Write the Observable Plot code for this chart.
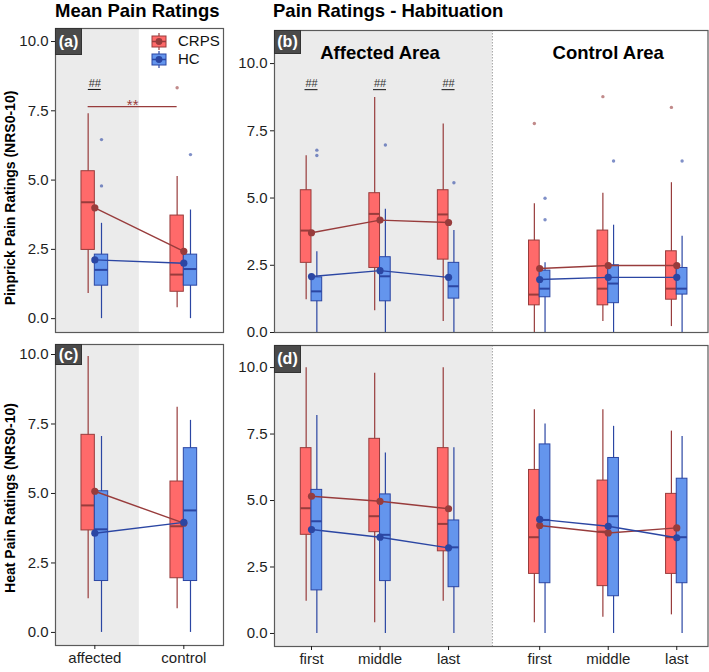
<!DOCTYPE html>
<html><head><meta charset="utf-8">
<script src="https://cdn.jsdelivr.net/npm/d3@7"></script>
<script src="https://cdn.jsdelivr.net/npm/@observablehq/plot@0.6"></script>
<style>
body{margin:0;background:#fff;}
#root{position:relative;width:709px;height:672px;font-family:"Liberation Sans",Arial,sans-serif;overflow:hidden;background:#fff;}
.abs{position:absolute;}
.title{font-weight:bold;font-size:18.5px;line-height:18.5px;color:#000;white-space:nowrap;}
.tag{background:#4a4a4a;color:#fff;font-weight:bold;font-size:16px;display:flex;align-items:center;justify-content:center;box-sizing:border-box;border:1px solid #333;}
.ytitle{font-weight:bold;font-size:14px;line-height:15px;white-space:nowrap;transform:translate(-50%,-50%) rotate(-90deg);color:#000;}
.legtext{font-size:15px;line-height:15px;color:#111;white-space:nowrap;}
</style></head>
<body><div id="root"></div>
<script>
// ---------------- data ----------------
const groups = ["CRPS", "HC"];
const sites = ["affected", "control"];
const phases = ["first", "middle", "last"];
const areas = ["Affected Area", "Control Area"];
const yTicks = [0, 2.5, 5, 7.5, 10];

// box stats per category: [lower whisker, Q1, median, Q3, upper whisker]
// (a) Pinprick, mean ratings (affected, control)
const pinMeanCRPS = [[0.91, 2.48, 4.20, 5.32, 7.39], [0.39, 0.97, 1.59, 3.72, 5.13]];
const pinMeanHC   = [[0, 1.19, 1.76, 2.31, 3.44], [0, 1.19, 1.79, 2.31, 3.92]];
const pinMeanCRPSmean = [4.00, 2.43];
const pinMeanHCmean   = [2.12, 2.00];
const pinMeanCRPSout  = [[], [8.33]];
const pinMeanHCout    = [[6.46, 4.79], [5.92]];

// (b) Pinprick, habituation (affected: first, middle, last; control: first, middle, last)
const pinHabCRPS = [
  [1.22, 2.59, 3.79, 5.29, 6.57], [0.81, 2.40, 4.41, 5.18, 8.74], [0.41, 2.71, 4.39, 5.29, 7.75],
  [0, 1.01, 1.41, 3.42, 4.79], [0.41, 1.01, 1.63, 3.79, 5.18], [0.22, 1.22, 1.63, 3.02, 5.57]];
const pinHabHC = [
  [0, 1.16, 1.53, 2.05, 3.00], [0, 1.16, 2.09, 2.80, 4.58], [0, 1.26, 1.72, 2.59, 3.79],
  [0, 1.31, 1.63, 2.30, 2.59], [0, 1.09, 1.82, 2.50, 3.99], [0, 1.41, 1.63, 2.40, 3.58]];
const pinHabCRPSmean = [3.71, 4.18, 4.09, 2.38, 2.49, 2.49];
const pinHabHCmean   = [2.08, 2.30, 2.05, 1.97, 2.05, 2.05];
const pinHabCRPSout  = [[], [], [], [7.77], [8.77], [8.37]];
const pinHabHCout    = [[6.78, 6.58], [6.97], [5.57], [4.99, 4.19], [6.38], [6.38]];

// (c) Heat, mean ratings
const heatMeanCRPS = [[1.21, 3.67, 4.57, 7.11, 9.93], [0.85, 1.95, 3.82, 5.43, 8.10]];
const heatMeanHC   = [[0, 1.85, 3.71, 5.08, 7.05], [0, 1.85, 4.39, 6.63, 7.63]];
const heatMeanCRPSmean = [5.08, 3.93];
const heatMeanHCmean   = [3.57, 3.96];

// (d) Heat, habituation
const heatHabCRPS = [
  [1.21, 3.71, 4.71, 6.97, 9.99], [0.40, 3.81, 4.41, 7.32, 9.79], [1.21, 3.09, 4.12, 6.97, 9.99],
  [0.40, 2.24, 3.62, 6.15, 8.41], [0.61, 1.78, 3.83, 5.75, 8.41], [0.70, 2.24, 3.62, 5.25, 7.61]];
const heatHabHC = [
  [0, 1.62, 4.22, 5.40, 8.20], [0, 1.97, 3.71, 5.23, 6.79], [0, 1.74, 3.24, 4.25, 6.98],
  [0, 1.89, 4.27, 7.11, 7.88], [0, 1.40, 4.41, 6.60, 7.79], [0, 1.89, 3.62, 5.82, 7.41]];
const heatHabCRPSmean = [5.16, 4.97, 4.69, 4.06, 3.78, 3.97];
const heatHabHCmean   = [3.91, 3.62, 3.22, 4.29, 4.03, 3.60];

// significance annotations
const pinMeanHashSites = ["affected"];   // "##" CRPS vs HC
const pinMeanHashY = 8.27;
const pinMeanStarSites = ["affected", "control"]; // "**" within CRPS
const pinMeanStarY = 7.65;
const pinHabHashPhases = ["first", "middle", "last"]; // in affected area
const pinHabHashY = 9.03;

// ---------------- styling ----------------
const light = {CRPS: "#FF6A6A", HC: "#6495ED"};
const dark  = {CRPS: "#983C3C", HC: "#2B46A3"};
const FONT = '"Liberation Sans", Arial, sans-serif';

const root = document.getElementById("root");
function place(el, left, top) { el.style.position = "absolute"; el.style.left = left + "px"; el.style.top = top + "px"; root.appendChild(el); }

function buildPanel(cfg) {
  const {pos, labels, areaOf, xDomain, yDomain, shadeTo, sep, crps, hc, crpsMean, hcMean,
         crpsOut, hcOut, boxW, showX, width, height, margin, extra} = cfg;
  const stats = {CRPS: crps, HC: hc}, mns = {CRPS: crpsMean, HC: hcMean}, outl = {CRPS: crpsOut, HC: hcOut};
  const boxes = [], means = [], outs = [];
  pos.forEach((p, i) => {
    for (const g of groups) {
      const s = stats[g][i];
      const x1 = g === "CRPS" ? p - boxW : p, x2 = g === "CRPS" ? p : p + boxW;
      const xc = (x1 + x2) / 2;
      boxes.push({g, x1, x2, xc, lo: s[0], q1: s[1], med: s[2], q3: s[3], hi: s[4]});
      for (const o of (outl[g] ? outl[g][i] : [])) outs.push({g, x: xc, y: o});
      means.push({g, x: p, y: mns[g][i], area: areaOf[i]});
    }
  });
  const marks = [];
  marks.push(Plot.rect([{x1: xDomain[0], x2: shadeTo, y1: yDomain[0], y2: yDomain[1]}],
    {x1: "x1", x2: "x2", y1: "y1", y2: "y2", fill: "#EBEBEB"}));
  if (sep != null) marks.push(Plot.ruleX([sep], {stroke: "#8a8a8a", strokeWidth: 0.8, strokeDasharray: "1.5,1.5"}));
  for (const g of groups) {
    const b = boxes.filter(d => d.g === g);
    marks.push(Plot.ruleX(b, {x: "xc", y1: "lo", y2: "hi", stroke: dark[g], strokeWidth: 1.2}));
    marks.push(Plot.rect(b, {x1: "x1", x2: "x2", y1: "q1", y2: "q3", fill: light[g], stroke: dark[g], strokeWidth: 1}));
    marks.push(Plot.ruleY(b, {x1: "x1", x2: "x2", y: "med", stroke: dark[g], strokeWidth: 2}));
    marks.push(Plot.dot(outs.filter(d => d.g === g), {x: "x", y: "y", r: 1.7, fill: dark[g], fillOpacity: 0.6, stroke: null}));
  }
  for (const g of groups) marks.push(Plot.line(means.filter(d => d.g === g), {x: "x", y: "y", z: "area", stroke: dark[g], strokeWidth: 1.4}));
  for (const g of groups) marks.push(Plot.dot(means.filter(d => d.g === g), {x: "x", y: "y", r: 3.6, fill: dark[g], stroke: null}));
  if (extra) marks.push(...extra);
  marks.push(Plot.frame({stroke: "#5a5a5a", strokeWidth: 1.2}));
  marks.push(Plot.axisY({ticks: yTicks, tickFormat: d3.format(".1f"), tickSize: 4, tickPadding: 3, label: null}));
  const labelAt = new Map(pos.map((p, i) => [p, labels[i]]));
  if (showX) marks.push(Plot.axisX({ticks: pos, tickFormat: d => labelAt.get(d), tickSize: 4, tickPadding: 3, label: null}));
  return Plot.plot({
    width, height,
    marginTop: margin[0], marginRight: margin[1], marginBottom: margin[2], marginLeft: margin[3],
    x: showX ? {domain: xDomain} : {domain: xDomain, axis: null},
    y: {domain: yDomain},
    style: {fontFamily: FONT, fontSize: "15px", color: "#1e1e1e", background: "transparent", overflow: "visible"},
    marks
  });
}

// layout of categories
const meanPos = sites.map((s, i) => i + 1);
const meanArea = sites.map(() => "all");
const meanXDomain = [0.558, 2.446];
const habSlots = areas.flatMap(a => phases.map(p => ({area: a, phase: p})));
const areaGap = 0.33;
const habPos = habSlots.map((s, i) => i + 1 + (i >= phases.length ? areaGap : 0));
const habLabels = habSlots.map(s => s.phase);
const habArea = habSlots.map(s => s.area);
const habXDomain = [0.46, 6.786];
const habSep = 3.64;
const meanBoxW = 0.15, habBoxW = 0.156;

// (a) annotations
const pxA = 168 / (meanXDomain[1] - meanXDomain[0]);
const uA = 6.5 / pxA;
const hashA = pinMeanHashSites.map(s => ({x: meanPos[sites.indexOf(s)], y: pinMeanHashY}));
const starX = pinMeanStarSites.map(s => meanPos[sites.indexOf(s)] - meanBoxW / 2);
const starA = [{x1: starX[0], x2: starX[1], xm: (starX[0] + starX[1]) / 2, y: pinMeanStarY}];
const extraA = [
  Plot.ruleY(hashA, {x1: d => d.x - uA, x2: d => d.x + uA, y: "y", stroke: "#111", strokeWidth: 1}),
  Plot.text(hashA, {x: "x", y: "y", text: () => "##", lineAnchor: "bottom", dy: -2.5, fontSize: 11, fill: "#333"}),
  Plot.ruleY(starA, {x1: "x1", x2: "x2", y: "y", stroke: dark.CRPS, strokeWidth: 1.1}),
  Plot.text(starA, {x: "xm", y: "y", text: () => "**", lineAnchor: "bottom", dy: 3, fontSize: 15, fill: dark.CRPS})
];

// (b) annotations
const pxB = 433.5 / (habXDomain[1] - habXDomain[0]);
const uB = 6.5 / pxB;
const hashB = pinHabHashPhases.map(p => ({x: habPos[phases.indexOf(p)], y: pinHabHashY}));
const areaCenters = areas.map(a => d3.mean(habPos.filter((p, i) => habArea[i] === a)));
const extraB = [
  Plot.ruleY(hashB, {x1: d => d.x - uB, x2: d => d.x + uB, y: "y", stroke: "#111", strokeWidth: 1}),
  Plot.text(hashB, {x: "x", y: "y", text: () => "##", lineAnchor: "bottom", dy: -2.5, fontSize: 11, fill: "#333"}),
  Plot.text(areas, {x: (d, i) => areaCenters[i], frameAnchor: "top", dy: 15, text: d => d, fontSize: 18.5, fontWeight: "bold", fill: "#000"})
];

const pA = buildPanel({pos: meanPos, labels: sites, areaOf: meanArea, xDomain: meanXDomain, yDomain: [-0.5, 10.47],
  shadeTo: 1.5, sep: null, crps: pinMeanCRPS, hc: pinMeanHC, crpsMean: pinMeanCRPSmean, hcMean: pinMeanHCmean,
  crpsOut: pinMeanCRPSout, hcOut: pinMeanHCout, boxW: meanBoxW, showX: false,
  width: 230, height: 340, margin: [28, 7, 8, 55], extra: extraA});
const pB = buildPanel({pos: habPos, labels: habLabels, areaOf: habArea, xDomain: habXDomain, yDomain: [0, 11.23],
  shadeTo: habSep, sep: habSep, crps: pinHabCRPS, hc: pinHabHC, crpsMean: pinHabCRPSmean, hcMean: pinHabHCmean,
  crpsOut: pinHabCRPSout, hcOut: pinHabHCout, boxW: habBoxW, showX: false,
  width: 479, height: 340, margin: [30, 1.5, 8, 44], extra: extraB});
const pC = buildPanel({pos: meanPos, labels: sites, areaOf: meanArea, xDomain: meanXDomain, yDomain: [-0.47, 10.36],
  shadeTo: 1.5, sep: null, crps: heatMeanCRPS, hc: heatMeanHC, crpsMean: heatMeanCRPSmean, hcMean: heatMeanHCmean,
  crpsOut: null, hcOut: null, boxW: meanBoxW, showX: true,
  width: 230, height: 336, margin: [8, 7, 27, 55], extra: []});
const pD = buildPanel({pos: habPos, labels: habLabels, areaOf: habArea, xDomain: habXDomain, yDomain: [-0.49, 10.83],
  shadeTo: habSep, sep: habSep, crps: heatHabCRPS, hc: heatHabHC, crpsMean: heatHabCRPSmean, hcMean: heatHabHCmean,
  crpsOut: null, hcOut: null, boxW: habBoxW, showX: true,
  width: 479, height: 336, margin: [9, 1.5, 26, 44], extra: []});

place(pA, 0, 0); place(pB, 230, 0); place(pC, 0, 336); place(pD, 230, 336);

// titles
function div(cls, text) { const d = document.createElement("div"); d.className = cls; d.textContent = text; return d; }
place(div("title", "Mean Pain Ratings"), 55, 2);
place(div("title", "Pain Ratings - Habituation"), 273, 2);
place(div("ytitle", "Pinprick Pain Ratings (NRS0-10)"), 10, 198);
place(div("ytitle", "Heat Pain Ratings (NRS0-10)"), 10, 498);

// panel tags
[["(a)", 55, 28, 27, 27], ["(b)", 274, 30, 27, 24], ["(c)", 55, 344, 27, 21], ["(d)", 274, 345, 27, 28]].forEach(([t, x, y, w, h]) => {
  const d = div("tag", t); d.style.width = w + "px"; d.style.height = h + "px"; place(d, x, y);
});

// legend
const legendRows = [41, 59];
groups.forEach((g, i) => {
  const ns = "http://www.w3.org/2000/svg";
  const svg = document.createElementNS(ns, "svg");
  svg.setAttribute("width", 18); svg.setAttribute("height", 17);
  svg.innerHTML = `<line x1="9" x2="9" y1="0" y2="17" stroke="${dark[g]}" stroke-width="1.2"/>
    <rect x="2" y="3" width="14" height="11" fill="${light[g]}" stroke="${dark[g]}" stroke-width="1"/>
    <line x1="2" x2="16" y1="8.5" y2="8.5" stroke="${dark[g]}" stroke-width="1.5"/>
    <circle cx="9" cy="8.5" r="3.4" fill="${dark[g]}"/>`;
  place(svg, 150, legendRows[i] - 8.5);
  place(div("legtext", g), 178, legendRows[i] - 8);
});
</script>
</body></html>
